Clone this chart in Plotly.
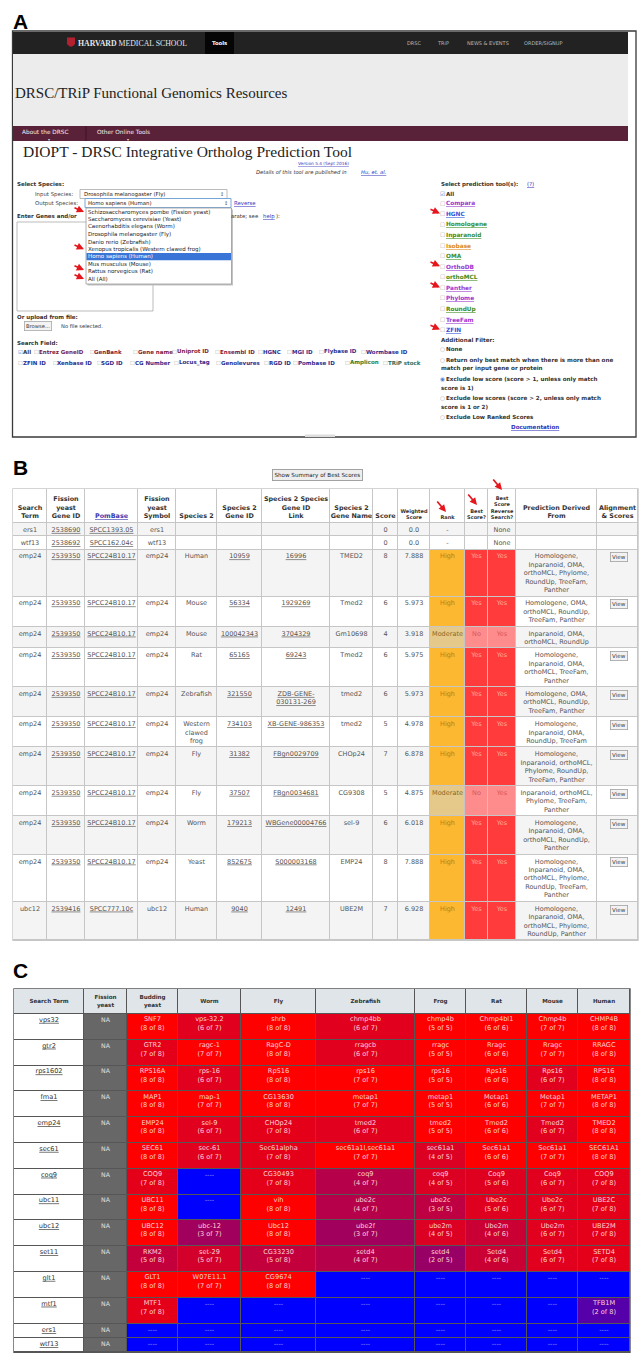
import plotly.graph_objects as go

W, H = 644, 1353
SANS = "DejaVu Sans"
SERIF = "Liberation Serif"
LABEL = "Liberation Sans"

# ======================= DATA =======================
# ---- Panel A : DIOPT web form ----
nav_links = ["DRSC", "TRiP", "NEWS & EVENTS", "ORDER/SIGNUP"]
menu_items = ["About the DRSC", "Other Online Tools"]
input_species = "Drosophila melanogaster (Fly)"
output_species = "Homo sapiens (Human)"
species_options = ["Schizosaccharomyces pombe (Fission yeast)", "Saccharomyces cerevisiae (Yeast)",
                   "Caenorhabditis elegans (Worm)", "Drosophila melanogaster (Fly)",
                   "Danio rerio (Zebrafish)", "Xenopus tropicalis (Western clawed frog)",
                   "Homo sapiens (Human)", "Mus musculus (Mouse)", "Rattus norvegicus (Rat)", "All (All)"]
species_flagged = ["Schizosaccharomyces pombe (Fission yeast)", "Xenopus tropicalis (Western clawed frog)",
                   "Rattus norvegicus (Rat)", "All (All)"]
tools = ["Compara", "HGNC", "Homologene", "Inparanoid", "Isobase", "OMA", "OrthoDB", "orthoMCL",
         "Panther", "Phylome", "RoundUp", "TreeFam", "ZFIN"]
tool_group = ["purple", "blue", "green", "green", "orange", "green", "purple", "green",
              "purple", "purple", "green", "purple", "blue"]
tools_flagged = ["HGNC", "OrthoDB", "Panther", "ZFIN"]
search_fields_1 = ["All", "Entrez GeneID", "GenBank", "Gene name", "Uniprot ID", "Ensembl ID",
                   "HGNC", "MGI ID", "Flybase ID", "Wormbase ID"]
search_fields_1_group = ["all", "maroon", "maroon", "maroon", "maroon", "maroon", "blue", "blue", "blue", "blue"]
search_fields_2 = ["ZFIN ID", "Xenbase ID", "SGD ID", "CG Number", "Locus_tag", "Genolevures",
                   "RGD ID", "Pombase ID", "Amplicon", "TRiP stock"]
search_fields_2_group = ["blue"] * 8 + ["green", "teal"]
filters = [["None"],
           ["Return only best match when there is more than one", "match per input gene or protein"],
           ["Exclude low score (score > 1, unless only match", "score is 1)"],
           ["Exclude low scores (score > 2, unless only match", "score is 1 or 2)"],
           ["Exclude Low Ranked Scores"]]
filter_selected = 2

# ---- Panel B : ortholog result table ----
b_header = ["Search<br>Term", "Fission<br>yeast<br>Gene ID", "PomBase", "Fission<br>yeast<br>Symbol",
            "Species 2", "Species 2<br>Gene ID", "Species 2 Species<br>Gene ID<br>Link",
            "Species 2<br>Gene Name", "Score", "Weighted<br>Score", "Rank", "Best<br>Score?",
            "Best<br>Score<br>Reverse<br>Search?", "Prediction Derived<br>From", "Alignment<br>& Scores"]
b_search = ["ers1", "wtf13"] + ["emp24"] * 10 + ["ubc12"]
b_fy_gene_id = ["2538690", "2538692"] + ["2539350"] * 10 + ["2539416"]
b_pombase = ["SPCC1393.05", "SPCC162.04c"] + ["SPCC24B10.17"] * 10 + ["SPCC777.10c"]
b_fy_symbol = ["ers1", "wtf13"] + ["emp24"] * 10 + ["ubc12"]
b_species2 = ["", "", "Human", "Mouse", "Mouse", "Rat", "Zebrafish", "Western<br>clawed<br>frog",
              "Fly", "Fly", "Worm", "Yeast", "Human"]
b_sp2_gene_id = ["", "", "10959", "56334", "100042343", "65165", "321550", "734103", "31382",
                 "37507", "179213", "852675", "9040"]
b_sp2_link = ["", "", "16996", "1929269", "3704329", "69243", "ZDB-GENE-<br>030131-269",
              "XB-GENE-986353", "FBgn0029709", "FBgn0034681", "WBGene00004766", "S000003168", "12491"]
b_gene_name = ["", "", "TMED2", "Tmed2", "Gm10698", "Tmed2", "tmed2", "tmed2", "CHOp24", "CG9308",
               "sel-9", "EMP24", "UBE2M"]
b_score = [0, 0, 8, 6, 4, 6, 6, 5, 7, 5, 6, 8, 7]
b_weighted = [0.0, 0.0, 7.888, 5.973, 3.918, 5.975, 5.973, 4.978, 6.878, 4.875, 6.018, 7.888, 6.928]
b_rank = ["-", "-", "High", "High", "Moderate", "High", "High", "High", "High", "Moderate",
          "High", "High", "High"]
b_best = ["", "", "Yes", "Yes", "No", "Yes", "Yes", "Yes", "Yes", "No", "Yes", "Yes", "Yes"]
b_reverse = ["None", "None"] + ["Yes"] * 11
b_derived = ["", "",
             "Homologene,<br>Inparanoid, OMA,<br>orthoMCL, Phylome,<br>RoundUp, TreeFam,<br>Panther",
             "Homologene, OMA,<br>orthoMCL, RoundUp,<br>TreeFam, Panther",
             "Inparanoid, OMA,<br>orthoMCL, RoundUp",
             "Homologene,<br>Inparanoid, OMA,<br>orthoMCL, TreeFam,<br>Panther",
             "Homologene, OMA,<br>orthoMCL, RoundUp,<br>TreeFam, Panther",
             "Homologene,<br>Inparanoid, OMA,<br>RoundUp, TreeFam",
             "Homologene,<br>Inparanoid, orthoMCL,<br>Phylome, RoundUp,<br>TreeFam, Panther",
             "Inparanoid, orthoMCL,<br>Phylome, TreeFam,<br>Panther",
             "Homologene,<br>Inparanoid, OMA,<br>orthoMCL, RoundUp,<br>Panther",
             "Homologene,<br>Inparanoid, OMA,<br>orthoMCL, Phylome,<br>RoundUp, TreeFam,<br>Panther",
             "Homologene,<br>Inparanoid, OMA,<br>orthoMCL, Phylome,<br>RoundUp, Panther"]
b_has_view = [False, False, True, True, False, True, True, True, True, True, True, True, True]

# ---- Panel C : summary heat table ----
c_search_terms = ["vps32", "gtr2", "rps1602", "fma1", "emp24", "sec61", "coq9", "ubc11", "ubc12",
                  "set11", "glt1", "mtf1", "ers1", "wtf13"]
c_species = ["Budding<br>yeast", "Worm", "Fly", "Zebrafish", "Frog", "Rat", "Mouse", "Human"]
c_genes = [
    ["SNF7", "vps-32.2", "shrb", "chmp4bb", "chmp4b", "Chmp4bl1", "Chmp4b", "CHMP4B"],
    ["GTR2", "ragc-1", "RagC-D", "rragcb", "rragc", "Rragc", "Rragc", "RRAGC"],
    ["RPS16A", "rps-16", "RpS16", "rps16", "rps16", "Rps16", "Rps16", "RPS16"],
    ["MAP1", "map-1", "CG13630", "metap1", "metap1", "Metap1", "Metap1", "METAP1"],
    ["EMP24", "sel-9", "CHOp24", "tmed2", "tmed2", "Tmed2", "Tmed2", "TMED2"],
    ["SEC61", "sec-61", "Sec61alpha", "sec61a1l,sec61a1", "sec61a1", "Sec61a1", "Sec61a1", "SEC61A1"],
    ["COQ9", None, "CG30493", "coq9", "coq9", "Coq9", "Coq9", "COQ9"],
    ["UBC11", None, "vih", "ube2c", "ube2c", "Ube2c", "Ube2c", "UBE2C"],
    ["UBC12", "ubc-12", "Ubc12", "ube2f", "ube2m", "Ube2m", "Ube2m", "UBE2M"],
    ["RKM2", "set-29", "CG33230", "setd4", "setd4", "Setd4", "Setd4", "SETD4"],
    ["GLT1", "W07E11.1", "CG9674", None, None, None, None, None],
    ["MTF1", None, None, None, None, None, None, "TFB1M"],
    [None] * 8,
    [None] * 8,
]
c_hits = [
    [8, 6, 8, 6, 5, 6, 7, 8], [7, 7, 8, 6, 5, 6, 7, 8], [8, 6, 8, 7, 5, 6, 6, 8],
    [8, 7, 8, 7, 5, 6, 7, 8], [8, 6, 7, 6, 5, 6, 6, 8], [8, 6, 7, 7, 4, 6, 7, 8],
    [7, 0, 7, 4, 4, 5, 6, 7], [8, 0, 8, 4, 3, 5, 6, 7], [8, 3, 8, 3, 4, 4, 6, 7],
    [5, 5, 5, 4, 2, 4, 6, 7], [8, 7, 8, 0, 0, 0, 0, 0], [7, 0, 0, 0, 0, 0, 0, 2],
    [0] * 8, [0] * 8,
]
c_tools = [8, 7, 8, 7, 5, 6, 7, 8]   # number of tools available per species pair

# ======================= LAYOUT HELPERS =======================
shapes, ann = [], []


def T(x, y, s, size=5.4, color="#333", family=SANS, xanchor="left", under=False, **kw):
    f = dict(size=size, color=color, family=family)
    if under:
        f["lineposition"] = "under"
    d = dict(x=x, y=y, xref="x", yref="y", text=s, showarrow=False, xanchor=xanchor,
             yanchor="middle", font=f, borderpad=0, borderwidth=0)
    d.update(kw)
    ann.append(d)


def R(x0, y0, x1, y1, fill=None, line=None, lw=1.0, layer="above"):
    shapes.append(dict(type="rect", xref="x", yref="y", x0=x0, y0=y0, x1=x1, y1=y1, layer=layer,
                       fillcolor=fill or "rgba(0,0,0,0)",
                       line=dict(color=line or "rgba(0,0,0,0)", width=lw if line else 0)))


def ARROW(x, y, ax=-11, ay=-5):
    ann.append(dict(x=x, y=y, xref="x", yref="y", ax=ax, ay=ay, text="", showarrow=True,
                    arrowhead=2, arrowsize=0.85, arrowwidth=1.7, arrowcolor="#e5161c", standoff=0))


LINK = "#3333bb"
GROUP_COL = {"purple": "#9a35d0", "blue": "#2f52d8", "green": "#3c8c1c", "orange": "#d98a1c",
             "maroon": "#7d1c40", "teal": "#2a6d5c", "all": "#333"}
FIELD_COL = {"blue": "#2c2c8c", "maroon": "#7d1c40", "green": "#2e7d32", "teal": "#2a6d5c", "all": "#333"}

# ======================= PANEL A =======================
T(13, 21, "<b>A</b>", 21, "#000", LABEL)
R(12.5, 31, 636, 437, fill="white", line="#3a3a3a", lw=1.3)
R(13, 32, 628, 54, fill="#222222")
shapes.append(dict(type="path", xref="x", yref="y", path="M 67 37.5 L 75 37.5 L 75 44 Q 71 49.5 67 44 Z",
                   fillcolor="#b3202f", line=dict(width=0)))
T(78, 43, "<b>HARVARD</b> MEDICAL SCHOOL", 7.8, "#e6e6e6", SERIF)
R(205, 32, 234, 54, fill="#050505")
T(219.5, 43, "<b>Tools</b>", 5.3, "white", xanchor="center")
for name, x in zip(nav_links, [413.5, 442.5, 487.5, 543]):
    T(x, 43, name, 5.0, "#b9b9b9", xanchor="center")
R(13, 54, 628, 126, fill="#ececec")
T(15, 93, "DRSC/TRiP Functional Genomics Resources", 15, "#222", SERIF)
R(13, 126, 628, 141, fill="#5a2239")
shapes.append(dict(type="line", xref="x", yref="y", x0=86, x1=86, y0=126, y1=141,
                   line=dict(color="#3e1327", width=1)))
for name, x in zip(menu_items, [22, 97]):
    T(x, 132, name, 5.8, "#f0f0f0")
T(49, 139, "▾", 4, "#ddd", xanchor="center")
T(128, 139, "▾", 4, "#ddd", xanchor="center")
T(23, 151, "DIOPT - DRSC Integrative Ortholog Prediction Tool", 15.5, "#222", SERIF)
T(323.5, 163, "Version 5.4 (Sept 2016)", 4.3, LINK, xanchor="center", under=True)
T(256, 172, "<i>Details of this tool are published in</i>", 5.2, "#333")
T(361, 172, "<i>Hu, et. al.</i>", 5.2, LINK, under=True)

# species selection
T(17, 184, "<b>Select Species:</b>", 5.5)
T(35, 194, "Input Species:", 5.4, "#444")
R(80, 189.5, 227, 198.5, fill="white", line="#aaaaaa", lw=0.8)
T(84, 194, input_species, 5.4, "#222")
T(222, 194, "↕", 5, "#555", xanchor="center")
T(35, 203, "Output Species:", 5.4, "#444")
R(85, 198.5, 231, 207.5, fill="white", line="#6a9fd8", lw=0.9)
T(88, 203, output_species, 5.4, "#222")
T(226, 203, "↕", 5, "#555", xanchor="center")
T(234, 203, "Reverse", 5.4, LINK, under=True)
T(17, 216, "<b>Enter Genes and/or</b>", 5.5)
T(231, 216, "arate; see", 5.4, "#333")
T(263, 216, "help", 5.4, LINK, under=True)
T(276, 216, "):", 5.4, "#333")
R(17, 222, 153, 311, fill="white", line="#aaaaaa", lw=0.8)
# drop-down list
R(87.5, 209.5, 233, 285.5, fill="#c4c4c4")
R(86, 208, 231.5, 284, fill="white", line="#999999", lw=0.8)
for i, name in enumerate(species_options):
    y = 212 + 7.45 * i
    sel = name == output_species
    if sel:
        R(86.5, y - 3.6, 231, y + 3.6, fill="#3875d7")
    T(87.5, y, name, 5.5, "white" if sel else "#222")
    if name in species_flagged:
        ARROW(84, y - (1.5 if name.startswith("Rattus") else 0))

T(17, 317, "<b>Or upload from file:</b>", 5.5)
T(38, 325.5, "Browse...", 5.2, "#333", xanchor="center", bgcolor="#f3f3f3", bordercolor="#a8a8a8",
  borderwidth=0.8, borderpad=1.2)
T(61, 325.5, "No file selected.", 5.2, "#333")
T(17, 343, "<b>Search Field:</b>", 5.5)
row1_x = [18, 34, 89.5, 133, 172, 215, 258, 287, 319, 361]
row2_x = [18, 52.5, 96.5, 130, 174, 216, 264, 293, 345, 383]
for names, groups, xs, y in [(search_fields_1, search_fields_1_group, row1_x, 351.5),
                             (search_fields_2, search_fields_2_group, row2_x, 362.5)]:
    for name, g, x in zip(names, groups, xs):
        box = "☑" if name == "All" else "☐"
        T(x, y, box, 5.4, "#4a7fd0" if name == "All" else "#aaa")
        T(x + 4.6, y, "<b>" + name + "</b>", 5.5, FIELD_COL[g])

# prediction tools column
T(441, 184, "<b>Select prediction tool(s):</b>", 5.5)
T(527, 184, "(?)", 5.5, LINK, under=True)
T(440, 193.5, "☑", 5.8, "#4a7fd0")
T(445.5, 193.5, "<b>All</b>", 5.6, "#333")
for i, (name, g) in enumerate(zip(tools, tool_group)):
    y = 203.5 + 10.55 * i
    T(440, y, "☐", 5.8, "#aaa")
    T(445.5, y, "<b>" + name + "</b>", 5.8, GROUP_COL[g], under=True)
    if name in tools_flagged:
        ARROW(440, y - 0.5)
T(441, 340, "<b>Additional Filter:</b>", 5.6)
fy = [349, 360, 379.2, 398.2, 416.5]
for i, (lines_, y) in enumerate(zip(filters, fy)):
    T(440, y, "◉" if i == filter_selected else "○", 5.6,
      "#4a7fd0" if i == filter_selected else "#999")
    T(446, y, "<b>" + lines_[0] + "</b>", 5.6, "#333")
    if len(lines_) > 1:
        T(441, y + 8.4, "<b>" + lines_[1] + "</b>", 5.6, "#333")
T(535, 427, "<b>Documentation</b>", 5.6, LINK, xanchor="center", under=True)
R(305, 434.5, 335, 437, fill="#dddddd")

# ======================= PANEL B =======================
T(13, 467, "<b>B</b>", 21, "#000", LABEL)
T(317.5, 475, "Show Summary of Best Scores", 5.6, "#222", xanchor="center", bgcolor="#eeeeee",
  bordercolor="#9a9a9a", borderwidth=0.9, borderpad=1.6)

b_x = [13, 47, 85, 138, 176, 217, 262, 330, 373, 398, 430, 465, 488, 516, 597, 638]
B_TOP, B_HEAD = 489, 523
FS_B, LH_B = 6.5, 8.45
b_cols = [b_search, b_fy_gene_id, b_pombase, b_fy_symbol, b_species2, b_sp2_gene_id, b_sp2_link,
          b_gene_name, [str(s) for s in b_score], ["%.1f" % w if w == 0 else "%.3f" % w for w in b_weighted],
          b_rank, b_best, b_reverse, b_derived]
nb = len(b_search)
b_lines = [max(str(col[i]).count("<br>") + 1 for col in b_cols) for i in range(nb)]
b_y = [B_TOP, B_HEAD]
for n in b_lines:
    b_y.append(b_y[-1] + 4.8 + LH_B * n)

# cell colour codes: 0 white, 1 light grey, 2 high, 3 moderate, 4 red, 5 light red
b_codes = [[0] * 15]
for i in range(nb):
    base = 1 if i % 2 == 0 else 0
    row = [base] * 15
    if b_rank[i] in ("High", "Moderate"):
        row[10] = 2 if b_rank[i] == "High" else 3
        strong = b_rank[i] == "High"
        if b_best[i]:
            row[11] = 4 if strong else 5
        if b_reverse[i] in ("Yes", "No"):
            row[12] = 4 if strong else 5
    b_codes.append(row)
b_palette = ["#ffffff", "#f4f4f4", "#fbb830", "#e5c98a", "#ff3b3b", "#ff8c8c"]
b_scale = []
for k, c in enumerate(b_palette):
    lo, hi = max(0, (k - 0.5) / 5), min(1, (k + 0.5) / 5)
    b_scale += [[lo, c], [hi, c]]
R(12.3, 488.3, 638.7, b_y[-1] + 0.7, fill="#c6c6c6", layer="below")
fig = go.Figure()
fig.add_trace(go.Heatmap(x=b_x, y=b_y, z=b_codes, colorscale=b_scale, zmin=0, zmax=5, showscale=False,
                         xgap=1, ygap=1, hoverinfo="skip"))

# header texts
hx, hy, ht, hsx, hsy, hst = [], [], [], [], [], []
small_cols = {9, 10, 11, 12}
for j, h in enumerate(b_header):
    n = h.count("<br>") + 1
    cx = (b_x[j] + b_x[j + 1]) / 2
    if j in small_cols:
        fs = 5.0
        hsx.append(cx); hsy.append(518 - (n - 1) * 1.3 * fs / 2); hst.append("<b>" + h.replace("<br>", "</b><br><b>") + "</b>")
    elif j == 2:
        continue
    else:
        fs = 6.4
        hx.append(cx); hy.append(516.5 - (n - 1) * 1.3 * fs / 2); ht.append("<b>" + h.replace("<br>", "</b><br><b>") + "</b>")
fig.add_trace(go.Scatter(x=hx, y=hy, text=ht, mode="text", textposition="middle center",
                         textfont=dict(family=SANS, size=6.4, color="#333"), hoverinfo="skip", cliponaxis=False))
fig.add_trace(go.Scatter(x=hsx, y=hsy, text=hst, mode="text", textposition="middle center",
                         textfont=dict(family=SANS, size=5.0, color="#333"), hoverinfo="skip", cliponaxis=False))
fig.add_trace(go.Scatter(x=[(b_x[2] + b_x[3]) / 2], y=[516.5], text=["<b>" + b_header[2] + "</b>"], mode="text",
                         textposition="middle center", hoverinfo="skip", cliponaxis=False,
                         textfont=dict(family=SANS, size=6.4, color="#3b3bb0", lineposition="under")))

# body texts
groups = {"plain": ([], [], [], []), "under": ([], [], [], [])}
underlined_cols = {1, 2, 5, 6}
for i in range(nb):
    top = b_y[i + 1]
    for j, col in enumerate(b_cols):
        s = str(col[i])
        if s == "":
            continue
        n = s.count("<br>") + 1
        cx = (b_x[j] + b_x[j + 1]) / 2
        cy = top + 7.3 + (n - 1) * 1.3 * FS_B / 2
        color = "#555"
        if j == 10 and s == "High":
            color = "#c17b0e"
        elif j == 10 and s == "Moderate":
            color = "#85681f"
        elif j in (11, 12) and s in ("Yes", "No"):
            color = "#ffab8c" if b_rank[i] == "High" else "#d55858"
        g = groups["under" if j in underlined_cols else "plain"]
        g[0].append(cx); g[1].append(cy); g[2].append(s); g[3].append(color)
for key, (xs, ys, ts, cs) in groups.items():
    tf = dict(family=SANS, size=FS_B, color=cs)
    if key == "under":
        tf["lineposition"] = "under"
    fig.add_trace(go.Scatter(x=xs, y=ys, text=ts, mode="text", textposition="middle center",
                             textfont=tf, hoverinfo="skip", cliponaxis=False))
for i in range(nb):
    if b_has_view[i]:
        T(619, b_y[i + 1] + 7.8, "View", 5.6, "#444", xanchor="center", bgcolor="#f2f2f2",
          bordercolor="#a0a0a0", borderwidth=0.8, borderpad=1.3)
ARROW(446, 512, -10, -12)
ARROW(477, 505, -10, -12)
ARROW(502, 490, -10, -12)

# ======================= PANEL C =======================
T(13, 970, "<b>C</b>", 21, "#000", LABEL)
c_x = [14, 84, 127, 178, 241, 316, 415, 466, 527, 578, 630]
C_TOP, C_HEAD = 989, 1014
RH_C = 25.8
c_y = [C_TOP, C_HEAD]
for genes in c_genes:
    tall = any(g is not None for g in genes)
    c_y.append(c_y[-1] + (RH_C if tall else 14))
nc = len(c_search_terms)
R(13.3, 988.3, 630.7, 1360, fill="#565656", layer="below")
# header
fig.add_trace(go.Heatmap(x=c_x, y=c_y[:2], z=[[0] * 10], colorscale=[[0, "#dfe5e8"], [1, "#dfe5e8"]],
                         showscale=False, xgap=1, ygap=1, hoverinfo="skip"))
# search term and fission yeast columns
fig.add_trace(go.Heatmap(x=c_x[:2], y=c_y[1:], z=[[0]] * nc, colorscale=[[0, "#ffffff"], [1, "#ffffff"]],
                         showscale=False, xgap=1, ygap=1, hoverinfo="skip"))
fig.add_trace(go.Heatmap(x=c_x[1:3], y=c_y[1:], z=[[0]] * nc, colorscale=[[0, "#676767"], [1, "#676767"]],
                         showscale=False, xgap=1, ygap=1, hoverinfo="skip"))
# ortholog support fraction -> colour
c_ratio = [[h / t for h, t in zip(row, c_tools)] for row in c_hits]
c_scale = [[0, "#0000ff"], [0.25, "#5600aa"], [0.4, "#990066"], [0.43, "#a2005d"], [0.57, "#b7004a"],
           [0.625, "#c4003c"], [0.67, "#cb0034"], [0.71, "#d3002c"], [0.8, "#dc0023"],
           [0.86, "#e1001d"], [0.875, "#e5001a"], [0.99, "#ea0015"], [1, "#ff0000"]]
fig.add_trace(go.Heatmap(x=c_x[2:], y=c_y[1:], z=c_ratio, colorscale=c_scale, zmin=0, zmax=1,
                         showscale=False, xgap=1, ygap=1, hoverinfo="skip"))

FS_C = 6.6
headers_c = ["Search Term", "Fission<br>yeast"] + c_species
fig.add_trace(go.Scatter(x=[(c_x[k] + c_x[k + 1]) / 2 for k in range(10)], y=[1001.5] * 10,
                         text=["<b>" + h.replace("<br>", "</b><br><b>") + "</b>" for h in headers_c],
                         mode="text", textposition="middle center", hoverinfo="skip", cliponaxis=False,
                         textfont=dict(family=SANS, size=5.6, color="#333")))
st_y = []
for i in range(nc):
    top, bot = c_y[i + 1], c_y[i + 2]
    st_y.append(top + 6.2 if bot - top > 20 else (top + bot) / 2)
fig.add_trace(go.Scatter(x=[(c_x[0] + c_x[1]) / 2] * nc, y=st_y, text=c_search_terms, mode="text",
                         textposition="middle center", hoverinfo="skip", cliponaxis=False,
                         textfont=dict(family=SANS, size=FS_C, color="#333", lineposition="under")))
fig.add_trace(go.Scatter(x=[(c_x[1] + c_x[2]) / 2] * nc, y=st_y, text=["NA"] * nc, mode="text",
                         textposition="middle center", hoverinfo="skip", cliponaxis=False,
                         textfont=dict(family=SANS, size=6.2, color="#e2e2e2")))
cx_l, cy_l, ct_l, cc_l = [], [], [], []
for i in range(nc):
    for k in range(8):
        g = c_genes[i][k]
        cx_l.append((c_x[k + 2] + c_x[k + 3]) / 2)
        if g is None:
            cy_l.append(st_y[i]); ct_l.append("----"); cc_l.append("#a7a7ee")
        else:
            cy_l.append(c_y[i + 1] + 5.7 + 1.3 * FS_C / 2)
            ct_l.append("%s<br>(%d of %d)" % (g, c_hits[i][k], c_tools[k]))
            cc_l.append("#ffd2d2")
fig.add_trace(go.Scatter(x=cx_l, y=cy_l, text=ct_l, mode="text", textposition="middle center",
                         hoverinfo="skip", cliponaxis=False,
                         textfont=dict(family=SANS, size=FS_C, color=cc_l)))

fig.update_layout(width=W, height=H, margin=dict(l=0, r=0, t=0, b=0), paper_bgcolor="white",
                  plot_bgcolor="white", showlegend=False, shapes=shapes, annotations=ann,
                  xaxis=dict(range=[0, W], visible=False, fixedrange=True),
                  yaxis=dict(range=[H, 0], visible=False, fixedrange=True))
fig.write_html("out.html", config={"displayModeBar": False},
               post_script="document.body.style.margin='0';")
